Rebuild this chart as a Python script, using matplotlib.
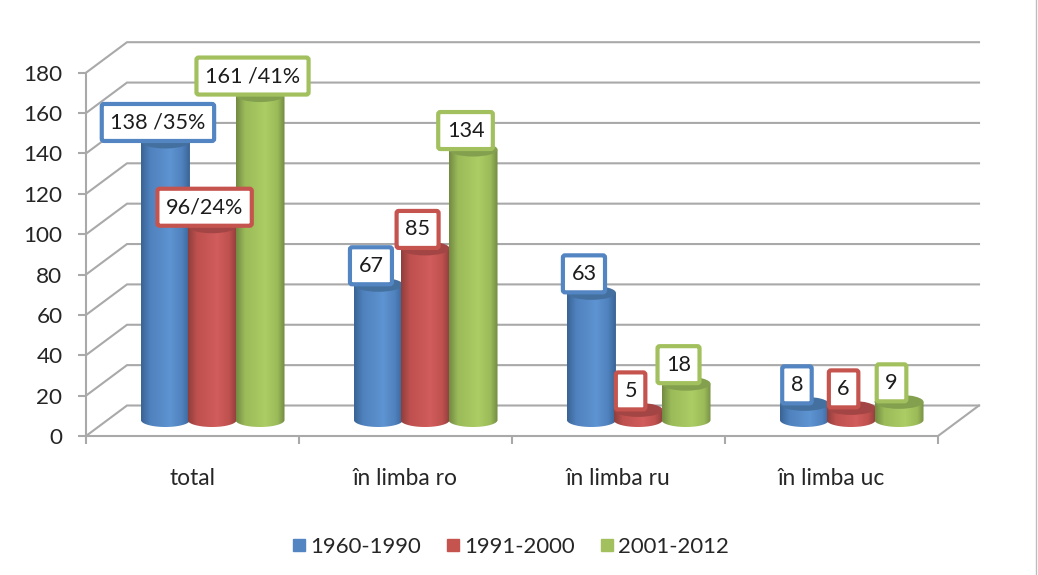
import numpy as np
import matplotlib
matplotlib.use('Agg')
import matplotlib.pyplot as plt
from matplotlib.colors import LinearSegmentedColormap
from matplotlib.lines import Line2D
from matplotlib.patches import BoxStyle, Ellipse, PathPatch
from matplotlib.path import Path

plt.rcParams['font.family'] = ['Lato', 'DejaVu Sans']

# Data
categories = ['total', 'în limba ro', 'în limba ru', 'în limba uc']
series_names = ['1960-1990', '1991-2000', '2001-2012']
values_1960 = [138, 67, 63, 8]
values_1991 = [96, 85, 5, 6]
values_2001 = [161, 134, 18, 9]
labels_1960 = ['138 /35%', '67', '63', '8']
labels_1991 = ['96/24%', '85', '5', '6']
labels_2001 = ['161 /41%', '134', '18', '9']
y_ticks = list(range(0, 181, 20))

# Styles
colors = ['#5285C2', '#C5544F', '#A2C15E']
shades = [('#3A6394', '#4F81BD', '#5E94D2'),
          ('#8E3F3D', '#BE504E', '#D15D5C'),
          ('#728A42', '#9BBB59', '#ACCC65')]
top_colors = ['#44709F', '#A34544', '#83A04F']
grid_color = '#A9A9A9'
line_w = 1.5

W, H = 1038, 575
x0_px, x1_px = 86, 938
y0_px, y180_px = 436, 72.7
px_x = (x1_px - x0_px) / 4          # pixels per category
px_y = (y0_px - y180_px) / 180      # pixels per unit of value
depth_x = 41 / px_x
depth_y = 30.5 / px_y
base = 16 / px_y                    # cylinders stand inside the floor
half_w = 24.5 / px_x
half_h = 7 / px_y
slots = [0.373, 0.592, 0.817]

# label box centre relative to the cylinder top, in pixels
label_dx = -7.5
label_dy = 19


def label_box(x0, y0, width, height, mutation_size):
    # fixed height for every box, whatever the text
    cy = y0 + height / 2
    return BoxStyle.Round(pad=0, rounding_size=0.1)(x0 - 8.5, cy - 18.5, width + 17, 37, mutation_size)


fig = plt.figure(figsize=(W / 100, H / 100), dpi=100)
ax = fig.add_axes([x0_px / W, 1 - y0_px / H, (x1_px - x0_px) / W, (y0_px - y180_px) / H])
ax.set_xlim(0, 4)
ax.set_ylim(0, 180)

# back wall and floor
for v in y_ticks:
    ax.plot([0, depth_x, 4 + depth_x], [v, v + depth_y, v + depth_y],
            color=grid_color, lw=line_w, clip_on=False, zorder=1, solid_joinstyle='miter')
ax.plot([4, 4 + depth_x], [0, depth_y], color=grid_color, lw=line_w, clip_on=False, zorder=1)


def cylinder(x, value, k, z):
    dark, mid, light = shades[k]
    cmap = LinearSegmentedColormap.from_list(
        'c', [(0, dark), (0.18, mid), (0.6, light), (0.85, mid), (1, dark)])
    top = base + value
    t = np.linspace(np.pi, 2 * np.pi, 40)
    verts = [(x - half_w, top)]
    verts += [(x + half_w * np.cos(a), base + half_h * np.sin(a)) for a in t]
    verts += [(x + half_w, top), (x - half_w, top)]
    body = PathPatch(Path(verts), transform=ax.transData, fc='none', ec='none')
    grad = np.linspace(0, 1, 128).reshape(1, -1)
    im = ax.imshow(grad, extent=[x - half_w, x + half_w, base - half_h, top], aspect='auto',
                   cmap=cmap, interpolation='bilinear', zorder=z)
    im.set_clip_path(body)
    ax.add_patch(Ellipse((x, top), 2 * half_w, 2 * half_h, fc=top_colors[k], ec='none',
                         zorder=z + 0.1, clip_on=False))
    return top


all_values = [values_1960, values_1991, values_2001]
all_labels = [labels_1960, labels_1991, labels_2001]
for k, vals in enumerate(all_values):
    for i, v in enumerate(vals):
        x = i + slots[k]
        top = cylinder(x, v, k, 3 + i + k * 0.2)
        ax.annotate(all_labels[k][i], (x, top), xytext=(label_dx, label_dy), textcoords='offset pixels',
                    ha='center', va='center', fontsize=15.6, color='#1c1c1c', zorder=20,
                    bbox=dict(boxstyle=label_box, fc='white', ec=colors[k], lw=3))

ax.set_xlim(0, 4)
ax.set_ylim(0, 180)

# axes
for s in ['top', 'right']:
    ax.spines[s].set_visible(False)
for s in ['left', 'bottom']:
    ax.spines[s].set_color(grid_color)
    ax.spines[s].set_linewidth(line_w)
ax.patch.set_visible(False)
ax.set_yticks(y_ticks)
ax.tick_params(axis='y', length=6, width=line_w, color=grid_color, labelsize=16.2,
               labelcolor='#262626', pad=11)
ax.set_xticks(range(5))
ax.set_xticklabels([])
ax.set_xticks([i + 0.5 for i in range(4)], labels=categories, minor=True)
ax.tick_params(axis='x', which='major', length=6, width=line_w, color=grid_color)
ax.tick_params(axis='x', which='minor', length=0, labelsize=16.4, labelcolor='#262626', pad=23)

handles = [Line2D([], [], ls='none', marker='s', ms=9, color=c, mec=c) for c in colors]
fig.legend(handles, series_names, loc='center', bbox_to_anchor=(510.5 / W, 1 - 547 / H), ncol=3,
           frameon=False, fontsize=15.9, labelcolor='#262626', handlelength=0.6,
           handletextpad=0.2, columnspacing=1.15)

# chart frame edge on the right
fig.add_artist(Line2D([1036 / W, 1036 / W], [0, 1], color='#BDBDBD', lw=1))

fig.savefig('out.png', dpi=100, facecolor='white')
